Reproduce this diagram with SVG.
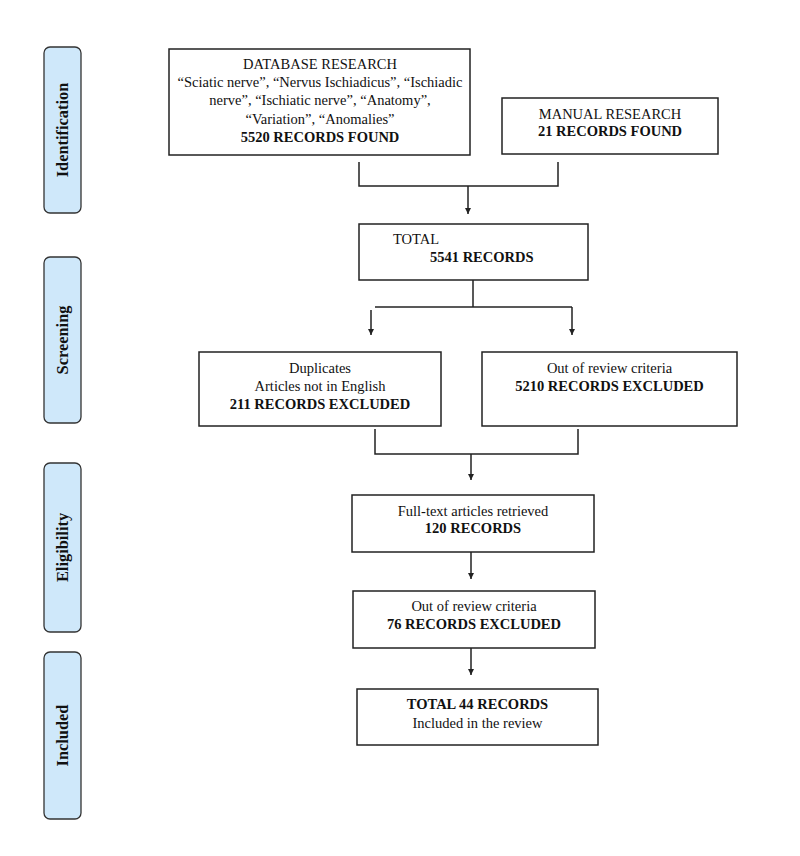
<svg xmlns="http://www.w3.org/2000/svg" width="800" height="856" viewBox="0 0 800 856">
<defs>
<marker id="ah" markerUnits="userSpaceOnUse" markerWidth="6" markerHeight="6" refX="6" refY="3" orient="auto">
<path d="M0,0 L6,3 L0,6 z" fill="#222"/>
</marker>
<style>
.box{fill:#fff;stroke:#222;stroke-width:1.5}
.side{fill:#cfe8fa;stroke:#333;stroke-width:1.3}
.t{font-family:"Liberation Serif","Times New Roman",serif;font-size:14.5px;fill:#111;text-anchor:middle}
.b{font-weight:bold}
.s{font-family:"Liberation Serif","Times New Roman",serif;font-size:16.4px;font-weight:bold;fill:#111;text-anchor:middle}
.c{fill:none;stroke:#222;stroke-width:1.5}
</style>
</defs>
<rect width="800" height="856" fill="#fff"/>

<g id="stage-identification">
<rect class="side" x="44" y="47" width="37" height="166" rx="6"/>
<text class="s" transform="translate(68,130) rotate(-90)">Identification</text>
</g>
<g id="stage-screening">
<rect class="side" x="44" y="257" width="37" height="166" rx="6"/>
<text class="s" transform="translate(68,340) rotate(-90)">Screening</text>
</g>
<g id="stage-eligibility">
<rect class="side" x="44" y="463" width="37" height="169" rx="6"/>
<text class="s" transform="translate(68,547.5) rotate(-90)">Eligibility</text>
</g>
<g id="stage-included">
<rect class="side" x="44" y="652" width="37" height="167" rx="6"/>
<text class="s" transform="translate(68,735.5) rotate(-90)">Included</text>
</g>

<g id="database">
<rect class="box" x="169" y="49" width="301" height="106"/>
<text class="t" x="320" y="69">DATABASE RESEARCH</text>
<text class="t" x="320" y="87">“Sciatic nerve”, “Nervus Ischiadicus”, “Ischiadic</text>
<text class="t" x="320" y="105">nerve”, “Ischiatic nerve”, “Anatomy”,</text>
<text class="t" x="320" y="124">“Variation”, “Anomalies”</text>
<text class="t b" x="320" y="142">5520 RECORDS FOUND</text>
</g>

<g id="manual">
<rect class="box" x="502" y="98" width="216" height="56"/>
<text class="t" x="610" y="119">MANUAL RESEARCH</text>
<text class="t b" x="610" y="136">21 RECORDS FOUND</text>
</g>

<g id="total">
<rect class="box" x="359" y="224" width="229" height="56"/>
<text class="t" x="393" y="244" style="text-anchor:start">TOTAL</text>
<text class="t b" x="430" y="262" style="text-anchor:start">5541 RECORDS</text>
</g>

<g id="duplicates">
<rect class="box" x="199" y="352" width="242" height="74"/>
<text class="t" x="320" y="373">Duplicates</text>
<text class="t" x="320" y="391">Articles not in English</text>
<text class="t b" x="320" y="409">211 RECORDS EXCLUDED</text>
</g>

<g id="out-criteria-1">
<rect class="box" x="482" y="352" width="255" height="74"/>
<text class="t" x="609.5" y="373">Out of review criteria</text>
<text class="t b" x="609.5" y="391">5210 RECORDS EXCLUDED</text>
</g>

<g id="fulltext">
<rect class="box" x="352" y="495" width="242" height="57"/>
<text class="t" x="473" y="516">Full-text articles retrieved</text>
<text class="t b" x="473" y="533">120 RECORDS</text>
</g>

<g id="out-criteria-2">
<rect class="box" x="353" y="591" width="242" height="57"/>
<text class="t" x="474" y="611">Out of review criteria</text>
<text class="t b" x="474" y="629">76 RECORDS EXCLUDED</text>
</g>

<g id="included">
<rect class="box" x="357" y="689" width="241" height="56"/>
<text class="t b" x="477.5" y="709">TOTAL 44 RECORDS</text>
<text class="t" x="477.5" y="728">Included in the review</text>
</g>

<g id="connectors">
<polyline class="c" points="359,162 359,186 558,186 558,162"/>
<line class="c" x1="468" y1="186" x2="468" y2="214" marker-end="url(#ah)"/>
<line class="c" x1="473" y1="280" x2="473" y2="307"/>
<line class="c" x1="375" y1="307" x2="572" y2="307"/>
<line class="c" x1="371" y1="310" x2="371" y2="335" marker-end="url(#ah)"/>
<line class="c" x1="572" y1="307" x2="572" y2="335" marker-end="url(#ah)"/>
<polyline class="c" points="375,429 375,454 578,454 578,429"/>
<line class="c" x1="471" y1="454" x2="471" y2="480" marker-end="url(#ah)"/>
<line class="c" x1="471" y1="552" x2="471" y2="579" marker-end="url(#ah)"/>
<line class="c" x1="471" y1="648" x2="471" y2="675" marker-end="url(#ah)"/>
</g>
</svg>
